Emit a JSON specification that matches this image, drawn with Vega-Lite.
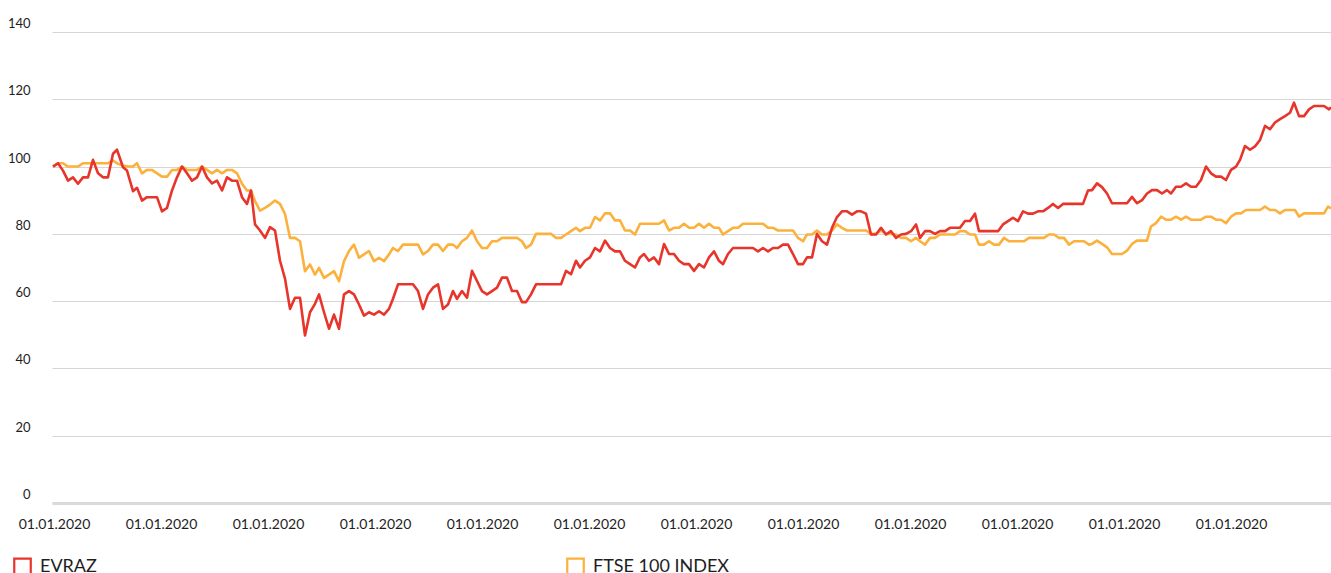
{
"$schema": "https://vega.github.io/schema/vega-lite/v6.json",
"width": 1279, "height": 471,
"autosize": {"type": "none"},
"padding": {"left": 52, "top": 32, "right": 0, "bottom": 70},
"background": "white",
"config": {"view": {"stroke": null}, "font": "Lato"},
"datasets": {
"ftse": [[0.2,100],[1.2,101],[2.2,101],[3.2,100],[4.2,100],[5.2,100],[6.2,101],[7.2,101],[8.2,101],[9.2,101],[10.2,101],[11.2,101],[12.2,101.8],[13.2,100.8],[14.2,100.3],[15.2,100],[16.2,100],[17,101],[18,98],[19,99],[20,99],[21,98],[22,97],[23,97],[24,99],[25,99],[26,100],[27,99],[28,99],[29,99],[30,100],[31,99],[32,98],[33,99],[34,98],[35,99],[36,99],[37,98],[38,94.9],[39,92.9],[39.8,92.9],[40.6,89.7],[41.6,86.9],[42.6,87.7],[43.6,88.7],[44.6,89.9],[45.6,88.9],[46.6,85.9],[47.6,78.8],[48.6,78.8],[49.6,77.8],[50.6,68.9],[51.6,70.9],[52.6,67.9],[53.4,69.9],[54.4,66.9],[55.4,67.9],[56.4,68.9],[57.4,65.9],[58.4,71.9],[59.4,74.9],[60.4,76.8],[61.4,72.9],[62.4,73.9],[63.4,74.9],[64.4,71.9],[65.4,72.9],[66.4,71.9],[67.4,73.9],[68.2,75.8],[69.2,74.9],[70.2,76.8],[71.2,76.8],[72.2,76.8],[73.2,76.8],[74.2,73.9],[75.2,74.9],[76.2,76.8],[77.2,76.8],[78.2,74.9],[79.2,76.8],[80.2,76.8],[81,75.8],[82,77.8],[83,78.8],[84,81],[85,77.8],[86,75.8],[87,75.8],[88,77.8],[89,77.8],[90,78.8],[91,78.8],[92,78.8],[93,78.8],[94,77.8],[94.8,75.8],[95.8,76.8],[96.8,80],[97.8,80],[98.8,80],[99.8,80],[100.8,78.8],[101.8,78.8],[102.8,79.8],[103.8,80.8],[104.8,81.8],[105.6,80.8],[106.6,81.8],[107.6,81.8],[108.6,85],[109.6,84],[110.6,86.1],[111.6,86.1],[112.6,84],[113.6,84],[114.6,81],[115.6,81],[116.6,79.8],[117.6,83],[118.6,83],[119.6,83],[120.6,83],[121.4,83],[122.4,84],[123.4,81],[124.4,81.8],[125.4,81.8],[126.4,83],[127.4,81.8],[128.4,81.8],[129.4,83],[130.4,81.8],[131.4,83],[132.4,81.8],[133.4,81.8],[134.2,79.8],[135.2,80.8],[136.2,81.8],[137.2,81.8],[138.2,83],[139.2,83],[140.2,83],[141.2,83],[142.2,83],[143.2,81.8],[144.2,81.8],[145.2,81],[146.2,81],[147.2,81],[148.2,81],[149.2,78.8],[150.2,77.8],[151,79.8],[152,79.8],[153,81],[154,79.8],[155,79.8],[156,81],[157,82.8],[158,81.8],[159,81],[160,81],[161,81],[161.8,81],[162.8,81],[163.8,80],[164.8,80],[165.8,81],[166.8,80],[167.8,80],[168.8,79.8],[169.8,78.8],[170.8,78.8],[171.8,77.8],[172.8,78.8],[173.6,77.8],[174.6,76.8],[175.6,78.8],[176.6,78.8],[177.6,79.8],[178.6,79.8],[179.6,79.8],[180.6,79.8],[181.6,80.8],[182.6,80.8],[183.6,79.8],[184.6,79.8],[185.4,76.8],[186.4,76.8],[187.4,77.8],[188.4,76.8],[189.4,76.8],[190.4,78.8],[191.4,77.8],[192.4,77.8],[193.4,77.8],[194.4,77.8],[195.4,78.8],[196.4,78.8],[197.4,78.8],[198.4,78.8],[199.4,79.8],[200.4,79.8],[201.4,78.8],[202.4,78.8],[203.4,76.8],[204.4,77.8],[205.4,77.8],[206.4,77.8],[207.4,76.8],[208,77],[209,78],[210,77],[211,76],[212,74],[213,74],[214,74],[215,75],[216,77],[217,78],[218,78],[219,78],[219.8,82.2],[220.8,83.2],[221.8,85.1],[222.8,84.2],[223.8,84.2],[224.8,85.1],[225.8,84.2],[226.8,85.1],[227.8,84.2],[228.8,84.2],[229.8,84.2],[230.8,85.1],[231.8,85.1],[232.8,84.2],[233.8,84.2],[234.8,83.2],[235.8,85.1],[236.8,86.1],[237.8,86.1],[238.8,87.1],[239.8,87.1],[240.8,87.1],[241.6,87.1],[242.6,88.1],[243.6,87.1],[244.6,87.1],[245.6,86.1],[246.6,87.1],[247.6,87.1],[248.6,87.1],[249.4,85.1],[250.4,86.1],[251.4,86.1],[252.4,86.1],[253.4,86.1],[254.4,86.1],[255.2,88.1],[255.8,87.6]],
"evraz": [[0.2,100],[1.2,101],[2.2,98.8],[3.2,95.8],[4.2,96.8],[5.2,94.9],[6.2,96.8],[7.2,96.8],[8.2,102],[9.2,98],[10.2,96.8],[11.2,96.8],[12.2,103.8],[13,105],[14.2,99.8],[15,98.8],[16.2,92.7],[17,93.7],[18,89.9],[19,90.9],[20,90.9],[21,90.9],[22,86.7],[23,87.7],[24,92.9],[25,96.8],[26,100],[27,98],[28,95.8],[29,96.8],[30,100],[31,96.8],[32,95],[33,95.8],[34,92.9],[35,96.8],[36,95.8],[37,95.8],[38,90.9],[39,88.9],[39.8,92.9],[40.6,82.8],[41.6,81],[42.6,78.8],[43.6,82],[44.6,81],[45.6,72],[46.6,66.7],[47.6,57.7],[48.6,61],[49.6,61],[50.6,49.8],[51.6,56.7],[52.6,59.2],[53.4,62],[54.4,56.7],[55.4,51.8],[56.4,56],[57.4,51.8],[58.4,62],[59.4,63],[60.4,62],[61.4,59],[62.4,55.7],[63.4,56.7],[64.4,56],[65.4,57],[66.4,56],[67.4,57.7],[68.2,60.7],[69.2,65],[70.2,65],[71.2,65],[72.2,65],[73.2,63],[74.2,57.7],[75.2,62],[76.2,64],[77.2,65],[78.2,57.7],[79.2,59],[80.2,63],[81,60.7],[82,63],[83,61],[84,69],[85,66],[86,63],[87,62],[88,63],[89,64],[90,67],[91,67],[92,63],[93,63],[94,59.7],[94.8,59.7],[95.8,62],[96.8,65],[97.8,65],[98.8,65],[99.8,65],[100.8,65],[101.8,65],[102.8,69],[103.8,68],[104.8,72],[105.6,70],[106.6,72],[107.6,73],[108.6,75.8],[109.6,74.8],[110.6,78],[111.6,75.8],[112.6,74.8],[113.6,74.8],[114.6,72],[115.6,71],[116.6,70],[117.6,73],[118.4,74],[119.4,72],[120.4,73],[121.4,71],[122.4,77],[123.4,74],[124.4,74],[125.4,72],[126.4,71],[127.4,71],[128.4,69],[129.4,71],[130.4,70],[131.4,73],[132.4,74.8],[133.4,72],[134.2,71],[135.2,74],[136.2,75.8],[137.2,75.8],[138.2,75.8],[139.2,75.8],[140.2,75.8],[141.2,74.8],[142.2,75.8],[143.2,74.8],[144.2,75.8],[145.2,75.8],[146.2,76.8],[147.2,76.8],[148.2,74],[149.2,71],[150.2,71],[151,73],[152,73],[153,80],[154,77.8],[155,76.8],[156,81.8],[157,85],[158,86.7],[159,86.7],[160,85.7],[161,86.7],[161.8,86.7],[162.8,86],[163.8,79.8],[164.8,79.8],[165.8,81.8],[166.8,79.8],[167.8,80.8],[168.8,78.8],[169.8,79.8],[170.8,80],[171.8,80.8],[172.8,82.8],[173.6,78.8],[174.6,80.8],[175.6,80.8],[176.6,80],[177.6,80.8],[178.6,80.8],[179.6,81.8],[180.6,81.8],[181.6,81.8],[182.6,83.8],[183.6,83.8],[184.6,86],[185.4,80.8],[186.4,80.8],[187.4,80.8],[188.4,80.8],[189.2,80.8],[190.2,82.8],[191.2,83.8],[192.2,84.8],[193.2,83.8],[194.2,86.7],[195.2,86],[196.2,86],[197.2,86.7],[198.2,86.7],[199.2,87.7],[200.2,88.9],[201.2,87.7],[202.2,88.9],[203.2,88.9],[204.2,88.9],[205.2,88.9],[206.2,88.9],[207.2,92.9],[208,93],[209,95],[210,93.9],[211,92],[212,89.1],[213,89.1],[214,89.1],[215,89.1],[216,91],[217,89.1],[218,90],[219,92],[220,93],[221,93],[222,92],[223,93],[223.8,92],[224.8,94],[225.8,94],[226.8,95],[227.8,94],[228.8,94],[229.8,96],[230.8,100],[231.8,98],[232.8,97],[233.8,97],[234.8,96],[235.8,99],[236.8,100],[237.6,102],[238.6,106.1],[239.6,105],[240.6,106],[241.6,107.9],[242.6,112.1],[243.6,111.1],[244.6,113.1],[245.6,114.1],[246.6,115],[247.6,116],[248.4,119],[249.4,115],[250.4,115],[251.4,117],[252.4,118],[253.4,118],[254.4,118],[255.4,117],[255.8,117.6]]
},
"data": {"name": "ftse"},
"layer": [
{
"data": {"name": "ftse"},
"transform": [{"calculate": "'FTSE 100 INDEX'", "as": "s"}],
"mark": {"type": "line", "strokeWidth": 2.6, "strokeJoin": "round"},
"encoding": {
"x": {"field": "0", "type": "quantitative", "scale": {"domain": [0, 255.8], "nice": false, "zero": false},
"axis": {"values": [0.4, 21.8, 43.2, 64.6, 86, 107.4, 128.8, 150.2, 171.6, 193, 214.4, 235.8], "labelExpr": "'01.01.2020'", "title": null, "grid": false, "ticks": false, "domain": true, "domainColor": "#d9d9d9", "domainWidth": 3, "labelFontSize": 14, "labelColor": "#1e1e1e", "labelPadding": 14, "labelFont": "Lato"}},
"y": {"field": "1", "type": "quantitative", "scale": {"domain": [0, 140], "nice": false},
"axis": {"values": [0, 20, 40, 60, 80, 100, 120, 140], "title": null, "ticks": false, "domain": false, "gridColor": "#d6d6d6", "gridWidth": 1, "labelFontSize": 13, "labelColor": "#1e1e1e", "labelPadding": 22, "labelBaseline": "alphabetic", "labelOffset": -4.5, "labelFont": "Lato"}},
"color": {"field": "s", "type": "nominal", "scale": {"domain": ["EVRAZ", "FTSE 100 INDEX"], "range": ["#e8352b", "#fbb13c"]},
"legend": {"orient": "none", "legendX": -39, "legendY": 525, "direction": "horizontal", "columns": 2, "columnPadding": 465, "title": null, "symbolType": "square", "symbolSize": 272, "symbolStrokeWidth": 2.2, "symbolFillColor": "transparent", "labelFontSize": 18, "labelColor": "#1e1e1e", "labelOffset": 8, "labelFont": "Lato"}}
}
},
{
"data": {"name": "evraz"},
"transform": [{"calculate": "'EVRAZ'", "as": "s"}],
"mark": {"type": "line", "strokeWidth": 2.6, "strokeJoin": "round"},
"encoding": {
"x": {"field": "0", "type": "quantitative"},
"y": {"field": "1", "type": "quantitative"},
"color": {"field": "s", "type": "nominal"}
}
}
]
}
